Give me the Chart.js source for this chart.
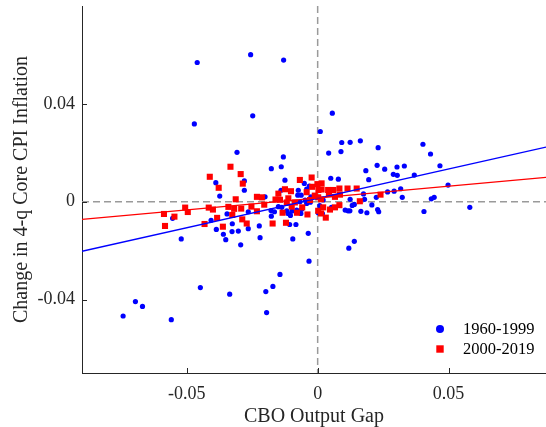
<!DOCTYPE html>
<html>
<head>
<meta charset="utf-8">
<script src="https://cdn.jsdelivr.net/npm/chart.js@4/dist/chart.umd.min.js"></script>
<style>
html,body{margin:0;padding:0;background:#fff;}
#wrap{position:relative;width:546px;height:427px;}
</style>
</head>
<body>
<div id="wrap"><canvas id="c" width="546" height="427"></canvas></div>
<script>
// ---- data ----
const seriesLabels = ["1960-1999", "2000-2019"];
const xTitle = "CBO Output Gap";
const yTitle = "Change in 4-q Core CPI Inflation";
const xRange = [-0.09, 0.0872];
const yRange = [-0.07, 0.08];
const xTickValues = [-0.05, 0, 0.05];
const xTickLabels = ["-0.05", "0", "0.05"];
const yTickValues = [-0.04, 0, 0.04];
const yTickLabels = ["-0.04", "0", "0.04"];

const blueX = [-0.0460,-0.0256,-0.0130,-0.0471,-0.0248,0.0010,-0.0308,-0.0131,-0.0139,-0.0177,
 -0.0125,-0.0280,-0.0389,-0.0280,-0.0374,-0.0201,-0.0051,-0.0032,-0.0074,-0.0042,
 -0.0140,-0.0063,-0.0076,0.0056,0.0092,0.0124,0.0163,0.0402,0.0231,0.0042,
 0.0089,0.0431,0.0227,0.0256,0.0184,0.0303,0.0331,0.0467,0.0289,0.0304,
 0.0369,0.0195,0.0050,0.0079,0.0498,0.0581,0.0317,0.0292,0.0267,0.0175,
 0.0323,0.0434,0.0445,0.0124,0.0179,0.0229,0.0224,0.0406,-0.0036,-0.0033,
 0.0140,0.0119,0.0165,0.0188,0.0207,0.0233,0.0105,0.0116,0.0123,0.0132,
 0.0140,0.0053,0.0002,0.0018,-0.0743,-0.0696,-0.0669,-0.0559,-0.0448,-0.0336,
 -0.0198,-0.0171,-0.0195,-0.0144,-0.0521,-0.0554,-0.0387,-0.0407,-0.0360,-0.0351,
 -0.0326,-0.0327,-0.0303,-0.0294,-0.0265,-0.0265,-0.0223,-0.0220,-0.0095,-0.0083,
 -0.0107,-0.0104,-0.0113,-0.0177,-0.0178,-0.0165,-0.0150,-0.0118,-0.0098,-0.0080,
 -0.0064,-0.0068,-0.0048,-0.0026,-0.0028,0.0008,-0.0118,0.0021,-0.0346,-0.0042,
 -0.0137,-0.0061];
const blueY = [0.0569,0.0601,0.0579,0.0318,0.0351,0.0287,0.0202,0.0183,0.0143,0.0135,
 0.0088,0.0085,0.0078,0.0047,0.0023,0.0020,0.0075,0.0064,0.0047,0.0052,
 0.0047,0.0027,0.0027,0.0362,0.0242,0.0243,0.0249,0.0235,0.0221,0.0199,
 0.0205,0.0195,0.0149,0.0133,0.0127,0.0142,0.0146,0.0147,0.0112,0.0108,
 0.0109,0.0090,0.0096,0.0092,0.0068,-0.0023,0.0053,0.0043,0.0040,0.0032,
 0.0018,0.0012,0.0018,0.0010,0.0010,-0.0032,0.0018,-0.0040,-0.0129,-0.0243,
 -0.0162,-0.0190,-0.0039,-0.0045,-0.0013,-0.0041,-0.0034,-0.0037,-0.0037,-0.0015,
 -0.0011,-0.0023,-0.0045,-0.0048,-0.0467,-0.0408,-0.0428,-0.0482,-0.0351,-0.0378,
 -0.0367,-0.0346,-0.0453,-0.0297,-0.0152,-0.0068,-0.0113,-0.0076,-0.0133,-0.0155,
 -0.0090,-0.0122,-0.0120,-0.0176,-0.0110,-0.0041,-0.0099,-0.0147,-0.0152,-0.0093,
 -0.0093,-0.0056,-0.0048,-0.0059,-0.0036,-0.0041,-0.0020,-0.0037,-0.0038,-0.0034,
 -0.0048,0.0000,0.0007,0.0020,-0.0002,-0.0016,-0.0007,0.0007,-0.0050,-0.0007,
 -0.0023,-0.0031];

const redX = [-0.0333,-0.0412,-0.0294,-0.0378,-0.0286,-0.0068,-0.0023,-0.0001,-0.0232,-0.0213,
 -0.0313,-0.0161,-0.0150,-0.0125,-0.0102,-0.0042,-0.0011,-0.0144,-0.0587,-0.0583,
 -0.0547,-0.0506,-0.0496,-0.0432,-0.0416,-0.0400,-0.0384,-0.0362,-0.0341,-0.0326,
 -0.0319,-0.0292,-0.0288,-0.0271,-0.0253,-0.0232,-0.0204,-0.0172,-0.0134,-0.0121,
 -0.0079,-0.0059,-0.0039,0.0002,-0.0087,-0.0118,-0.0112,-0.0029,0.0021,-0.0021,
 0.0015,0.0003,0.0015,0.0040,0.0043,0.0060,0.0083,0.0085,0.0114,0.0149,
 0.0002,0.0013,0.0066,0.0161,0.0240,0.0047,0.0066,0.0083,0.0031,0.0013,
 -0.0099];
const redY = [0.0143,0.0102,0.0113,0.0057,0.0074,0.0089,0.0099,0.0072,0.0020,0.0018,
 0.0010,0.0009,0.0033,0.0051,0.0043,0.0039,0.0025,0.0008,-0.0050,-0.0099,
 -0.0061,-0.0024,-0.0042,-0.0091,-0.0024,-0.0032,-0.0066,-0.0102,-0.0021,-0.0054,
 -0.0029,-0.0028,-0.0072,-0.0089,-0.0020,-0.0039,-0.0012,-0.0089,-0.0045,-0.0086,
 -0.0045,-0.0023,-0.0052,-0.0037,-0.0003,-0.0003,0.0014,0.0007,-0.0023,0.0061,
 0.0075,0.0048,0.0050,0.0048,0.0032,0.0048,0.0054,0.0029,0.0054,0.0054,
 0.0018,0.0010,0.0020,0.0002,0.0029,-0.0032,-0.0023,-0.0014,-0.0065,-0.0048,
 -0.0020];

// fitted lines: [intercept, slope]
const blueFit = [0.0014, 0.2404];
const redFit = [0.0015, 0.0971];

// ---- build chart ----
const BLUE = "#0000ff", RED = "#ff0000", AXIS = "#262626";
const FONT = "'Liberation Serif','Times New Roman',serif";

const toPts = (xs, ys) => xs.map((x, i) => ({x: x, y: ys[i]}));
const fitPts = f => xRange.map(x => ({x: x, y: f[0] + f[1] * x}));

const zeroLines = {
  id: "zeroLines",
  beforeDatasetsDraw(chart) {
    const {ctx, chartArea: a, scales: {x, y}} = chart;
    ctx.save();
    ctx.strokeStyle = "#9a9a9a";
    ctx.lineWidth = 1.5;
    ctx.setLineDash([7, 4]);
    const px = x.getPixelForValue(0), py = y.getPixelForValue(0);
    ctx.beginPath();
    ctx.moveTo(a.left, py); ctx.lineTo(a.right, py);
    ctx.moveTo(px, a.top); ctx.lineTo(px, a.bottom);
    ctx.stroke();
    ctx.restore();
  }
};

const inwardTicks = {
  id: "inwardTicks",
  afterDraw(chart) {
    const {ctx, chartArea: a, scales: {x, y}} = chart;
    ctx.save();
    ctx.strokeStyle = AXIS;
    ctx.lineWidth = 1;
    ctx.beginPath();
    xTickValues.forEach(v => {
      const p = Math.round(x.getPixelForValue(v)) + 0.5;
      ctx.moveTo(p, a.bottom); ctx.lineTo(p, a.bottom - 5);
    });
    yTickValues.forEach(v => {
      const p = Math.round(y.getPixelForValue(v)) + 0.5;
      ctx.moveTo(a.left, p); ctx.lineTo(a.left + 5, p);
    });
    ctx.stroke();
    ctx.restore();
  }
};

const innerLegend = {
  id: "innerLegend",
  afterDraw(chart) {
    const {ctx, chartArea: a} = chart;
    const items = chart.data.datasets.filter(d => d.legendRow !== undefined);
    ctx.save();
    ctx.font = "16.5px " + FONT;
    ctx.textBaseline = "middle";
    ctx.textAlign = "left";
    items.forEach(d => {
      const cy = a.bottom - 44 + d.legendRow * 20;
      const cx = a.right - 106;
      ctx.fillStyle = d.backgroundColor;
      if (d.pointStyle === "rect") {
        ctx.fillRect(cx - 3.7, cy - 3.7, 7.4, 7.4);
      } else {
        ctx.beginPath(); ctx.arc(cx, cy, 4, 0, Math.PI * 2); ctx.fill();
      }
      ctx.fillStyle = "#000";
      ctx.fillText(d.label, cx + 23, cy + 1);
    });
    ctx.restore();
  }
};

new Chart(document.getElementById("c"), {
  type: "scatter",
  data: {
    datasets: [
      {label: "fit2", data: fitPts(redFit), showLine: true, borderColor: RED, borderWidth: 1.3,
       pointRadius: 0, fill: false, order: 0},
      {label: "fit1", data: fitPts(blueFit), showLine: true, borderColor: BLUE, borderWidth: 1.3,
       pointRadius: 0, fill: false, order: 1},
      {label: seriesLabels[1], data: toPts(redX, redY), pointStyle: "rect", pointRadius: 4.3,
       backgroundColor: RED, borderWidth: 0, order: 2, legendRow: 1},
      {label: seriesLabels[0], data: toPts(blueX, blueY), pointStyle: "circle", pointRadius: 2.6,
       backgroundColor: BLUE, borderWidth: 0, order: 3, legendRow: 0}
    ]
  },
  options: {
    responsive: false,
    animation: false,
    layout: {autoPadding: false, padding: {top: 6, right: 0, left: 0, bottom: 0}},
    plugins: {legend: {display: false}, tooltip: {enabled: false}},
    elements: {point: {hoverRadius: 0}},
    scales: {
      x: {
        type: "linear", min: xRange[0], max: xRange[1],
        afterBuildTicks: s => { s.ticks = xTickValues.map(v => ({value: v})); },
        afterFit: s => { s.height = 54; s.paddingLeft = 0; s.paddingRight = 0; },
        ticks: {
          callback: (v) => { const i = xTickValues.indexOf(v); return i >= 0 ? xTickLabels[i] : ""; },
          font: {family: FONT, size: 18}, color: AXIS, padding: 10, maxRotation: 0, autoSkip: false
        },
        grid: {display: false, drawTicks: false},
        border: {display: true, color: AXIS, width: 1},
        title: {display: true, text: xTitle, font: {family: FONT, size: 20, lineHeight: 1}, color: AXIS,
                padding: {top: 0, bottom: 0}}
      },
      y: {
        type: "linear", min: yRange[0], max: yRange[1],
        afterBuildTicks: s => { s.ticks = yTickValues.map(v => ({value: v})); },
        afterFit: s => { s.width = 82; s.paddingTop = 0; s.paddingBottom = 0; },
        ticks: {
          callback: (v) => { const i = yTickValues.indexOf(v); return i >= 0 ? yTickLabels[i] : ""; },
          font: {family: FONT, size: 18}, color: AXIS, padding: 7, autoSkip: false
        },
        grid: {display: false, drawTicks: false},
        border: {display: true, color: AXIS, width: 1},
        title: {display: true, text: yTitle, font: {family: FONT, size: 20, lineHeight: 1}, color: AXIS,
                padding: {top: 12, bottom: 0}}
      }
    }
  },
  plugins: [zeroLines, inwardTicks, innerLegend]
});
</script>
</body>
</html>
